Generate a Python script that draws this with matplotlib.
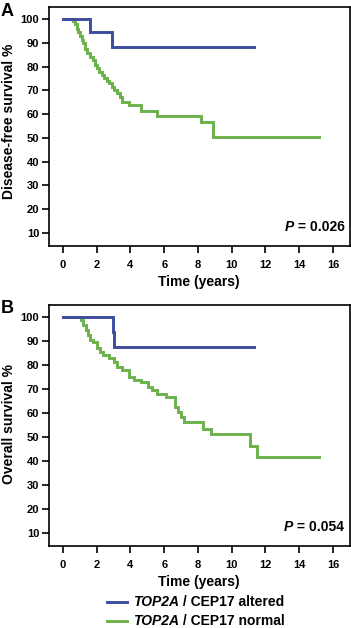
import matplotlib
matplotlib.use("Agg")
import matplotlib.pyplot as plt
from matplotlib.lines import Line2D

plt.rcParams['font.family'] = ['Liberation Sans', 'DejaVu Sans']
plt.rcParams['font.weight'] = 'bold'

# panel A - disease-free survival (step times in years, survival % after each step)
blue_a_t = [1.6, 2.9]
blue_a_s = [94.4, 88.2]
blue_a_end = 11.3
green_a_t = [0.6, 0.7, 0.8, 0.9, 1.0, 1.1, 1.2, 1.3, 1.45, 1.6, 1.8, 1.9, 2.0, 2.15,
             2.3, 2.45, 2.6, 2.75, 2.9, 3.05, 3.2, 3.35, 3.5, 3.9, 4.6, 5.55, 8.2, 8.9]
green_a_s = [99.0, 98.0, 96.0, 94.4, 93.0, 91.0, 89.8, 87.5, 85.6, 84.2, 82.8, 80.7, 79.3, 77.9,
             76.5, 75.1, 74.0, 73.0, 71.6, 70.2, 68.8, 67.4, 65.3, 63.9, 61.5, 59.2, 56.9, 50.5]
green_a_end = 15.2

# panel B - overall survival
blue_b_t = [2.95, 3.05]
blue_b_s = [93.75, 87.5]
blue_b_end = 11.3
green_b_t = [1.05, 1.2, 1.35, 1.5, 1.6, 1.8, 2.0, 2.2, 2.4, 2.7, 3.0, 3.2, 3.5, 3.9,
             4.2, 4.6, 5.05, 5.25, 5.55, 6.1, 6.65, 6.8, 7.0, 7.2, 8.3, 8.8, 11.1, 11.5]
green_b_s = [98.9, 96.8, 94.7, 92.6, 90.5, 89.8, 87.0, 85.6, 84.2, 82.8, 81.4, 79.3, 77.9, 75.1,
             73.7, 73.0, 71.0, 69.5, 68.1, 66.7, 62.5, 60.4, 58.3, 56.2, 53.4, 51.3, 46.3, 41.5]
green_b_end = 15.2

x_ticks = [0, 2, 4, 6, 8, 10, 12, 14, 16]
y_ticks = [10, 20, 30, 40, 50, 60, 70, 80, 90, 100]

BLUE = '#3d4c9f'
GREEN = '#6bb24c'
W, H = 351, 628

fig = plt.figure(figsize=(W / 100, H / 100), dpi=100)


def step_xy(t, s, end):
    return [0] + t + [end], [100] + s + [s[-1]]


def panel(top, bottom, letter, ylab, ylab_y, pval, blue, green):
    ax = fig.add_axes([49 / W, 1 - bottom / H, 300.5 / W, (bottom - top) / H])
    gx, gy = step_xy(*green)
    bx, by = step_xy(*blue)
    ax.step(gx, gy, where='post', color=GREEN, lw=2.1, solid_joinstyle='miter')
    ax.step(bx, by, where='post', color=BLUE, lw=2.1, solid_joinstyle='miter')
    ax.set_xlim(-0.83, 16.98)
    ax.set_ylim(4.5, 105.1)
    ax.set_xticks(x_ticks)
    ax.set_yticks(y_ticks)
    ax.tick_params(labelsize=8, length=5, width=1.2)
    ax.tick_params(axis='x', pad=5)
    ax.tick_params(axis='y', pad=2)
    for lab in ax.get_xticklabels() + ax.get_yticklabels():
        lab.set_fontweight('bold')
    for sp in ax.spines.values():
        sp.set_linewidth(1.2)
    ax.set_xlabel('Time (years)', fontsize=10, fontweight='bold', labelpad=4)
    fig.text(9 / W, 1 - ylab_y / H, ylab, rotation=90, ha='center', va='center',
             fontsize=10, fontweight='bold')
    fig.text(1 / W, 1 - (top + 4) / H, letter, ha='left', va='center', fontsize=13,
             fontweight='bold')
    # p value: italic P, then the rest
    t = ax.text(0.983, 0.078, ' = ' + pval, transform=ax.transAxes, ha='right',
                va='center', fontsize=10, fontweight='bold')
    ax.annotate('P', xy=(0, 0.5), xycoords=t, ha='right', va='center', fontsize=10,
                fontweight='bold', style='italic')
    return ax


panel(7, 246, 'A', 'Disease-free survival %', 121, '0.026',
      (blue_a_t, blue_a_s, blue_a_end), (green_a_t, green_a_s, green_a_end))
panel(305, 546, 'B', 'Overall survival %', 424, '0.054',
      (blue_b_t, blue_b_s, blue_b_end), (green_b_t, green_b_s, green_b_end))

# legend drawn by hand so TOP2A can be italic
for yy, col, word in [(602, BLUE, 'altered'), (621, GREEN, 'normal')]:
    fig.add_artist(Line2D([107 / W, 127 / W], [1 - yy / H, 1 - yy / H], color=col, lw=2.1,
                          transform=fig.transFigure))
    t = fig.text(133 / W, 1 - (yy + 4) / H, 'TOP2A', ha='left', va='baseline', fontsize=10,
                 fontweight='bold', style='italic')
    plt.annotate(' / CEP17 ' + word, xy=(1, 0), xycoords=t, ha='left', va='bottom',
                 fontsize=10, fontweight='bold', annotation_clip=False)

fig.savefig('out.png', dpi=100)
